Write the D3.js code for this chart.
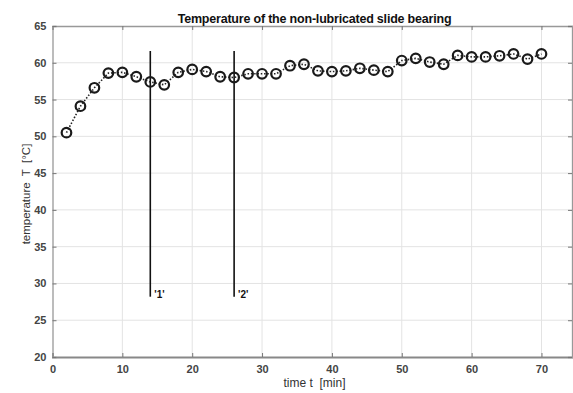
<!DOCTYPE html>
<html><head><meta charset="utf-8">
<script src="https://cdn.jsdelivr.net/npm/d3@7"></script>
<style>body{margin:0;background:#fff}svg{display:block}text{white-space:pre}</style>
</head><body>
<script>
const times = [2,4,6,8,10,12,14,16,18,20,22,24,26,28,30,32,34,36,38,40,42,44,46,48,50,52,54,56,58,60,62,64,66,68,70];
const temps = [50.5,54.1,56.6,58.6,58.7,58.1,57.4,57.0,58.7,59.1,58.8,58.1,58.0,58.5,58.5,58.5,59.6,59.8,58.9,58.8,58.9,59.25,59.0,58.8,60.3,60.6,60.1,59.8,61.0,60.8,60.8,60.95,61.2,60.5,61.2];
const xTicks = [0,10,20,30,40,50,60,70];
const yTicks = [20,25,30,35,40,45,50,55,60,65];
const markerTimes = [14,26];
const markerLabels = ["'1'","'2'"];
const markerRange = [28.2,61.6];
const title = "Temperature of the non-lubricated slide bearing";
const xLabel = "time t  [min]";
const yLabel = "temperature  T  [°C]";

const W=573,H=393;
const svg=d3.select("body").append("svg").attr("width",W).attr("height",H);
const x=d3.scaleLinear().domain([0,75]).range([52.5,576.4]);
const y=d3.scaleLinear().domain([20,65]).range([357,26]);
const font="'Liberation Sans', Arial, sans-serif";

// grid
svg.append("g").selectAll("line").data(xTicks.slice(1)).join("line")
  .attr("x1",d=>x(d)).attr("x2",d=>x(d)).attr("y1",y(65)).attr("y2",y(20))
  .attr("stroke","#e3e3e3").attr("stroke-width",1);
svg.append("g").selectAll("line").data(yTicks.slice(1,-1)).join("line")
  .attr("x1",x(0)).attr("x2",x(75)).attr("y1",d=>y(d)).attr("y2",d=>y(d))
  .attr("stroke","#e3e3e3").attr("stroke-width",1);

// axes
const xb=svg.append("g").attr("transform",`translate(0,${y(20)})`)
  .call(d3.axisBottom(x).tickValues(xTicks).tickSize(-4).tickPadding(8).tickFormat(d3.format("d")));
const xt=svg.append("g").attr("transform",`translate(0,${y(65)})`)
  .call(d3.axisTop(x).tickValues(xTicks).tickSize(-4).tickFormat(""));
const yl=svg.append("g").attr("transform",`translate(${x(0)},0)`)
  .call(d3.axisLeft(y).tickValues(yTicks).tickSize(-4).tickPadding(6).tickFormat(d3.format("d")));
const yr=svg.append("g").attr("transform",`translate(572,0)`)
  .call(d3.axisRight(y).tickValues(yTicks).tickSize(-4).tickFormat(""));
[xb,xt,yl,yr].forEach(g=>{
  g.selectAll(".domain").attr("stroke","#999").attr("stroke-width",1.3);
  g.selectAll(".tick line").attr("stroke","#777").attr("stroke-width",1);
  g.selectAll("text").attr("font-family",font).attr("font-size",11).attr("fill","#444").attr("font-weight","bold");
});
xb.select(".domain").attr("stroke","#888").attr("stroke-width",2);

// marker lines
svg.append("g").selectAll("line").data(markerTimes).join("line")
  .attr("x1",d=>x(d)).attr("x2",d=>x(d)).attr("y1",y(markerRange[1])).attr("y2",y(markerRange[0]))
  .attr("stroke","#111").attr("stroke-width",1.6);
svg.append("g").selectAll("text").data(markerTimes).join("text")
  .attr("x",d=>x(d)+4).attr("y",y(markerRange[0])+1)
  .text((d,i)=>markerLabels[i])
  .attr("font-family",font).attr("font-size",10).attr("font-weight","bold").attr("fill","#111");

// data line
const pts=times.map((t,i)=>[t,temps[i]]);
svg.append("path").datum(pts)
  .attr("d",d3.line().x(d=>x(d[0])).y(d=>y(d[1])))
  .attr("fill","none").attr("stroke","#222").attr("stroke-width",1.6).attr("stroke-dasharray","1.5,1.8");
svg.append("g").selectAll("circle").data(pts).join("circle")
  .attr("cx",d=>x(d[0])).attr("cy",d=>y(d[1])).attr("r",4.8)
  .attr("fill","none").attr("stroke","#1a1a1a").attr("stroke-width",2.2);

// texts
svg.append("text").attr("x",314.5).attr("y",23).attr("text-anchor","middle")
  .attr("font-family",font).attr("font-size",12.5).attr("font-weight","bold").attr("fill","#111")
  .attr("letter-spacing","-0.2").text(title);
svg.append("text").attr("x",314.5).attr("y",387).attr("text-anchor","middle")
  .attr("font-family",font).attr("font-size",12).attr("fill","#333").text(xLabel);
svg.append("text").attr("transform",`translate(30,194) rotate(-90)`).attr("text-anchor","middle")
  .attr("font-family",font).attr("font-size",11.5).attr("fill","#333").text(yLabel);
</script>
</body></html>
